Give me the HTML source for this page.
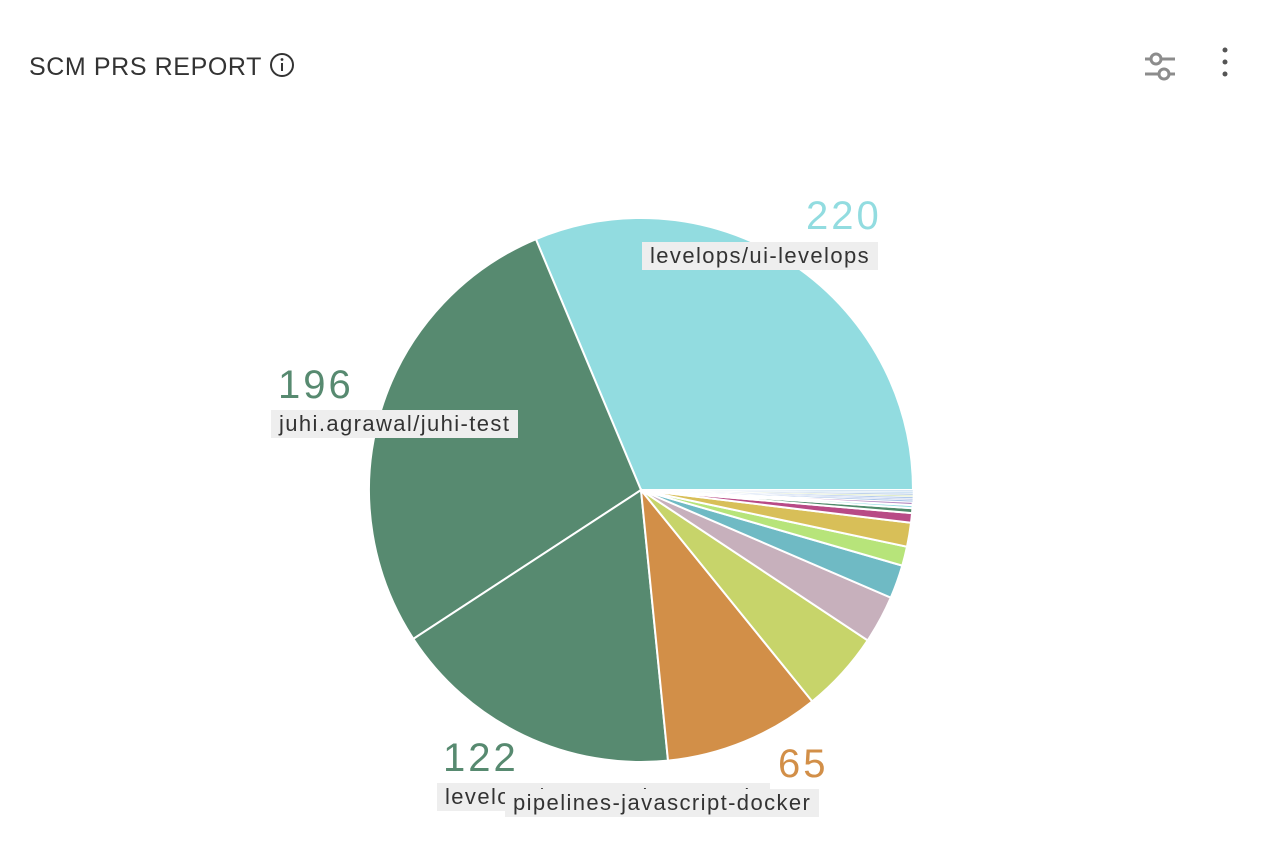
<!DOCTYPE html>
<html><head><meta charset="utf-8"><style>
body{margin:0;width:1286px;height:852px;background:#fff;font-family:"Liberation Sans",sans-serif;overflow:hidden;position:relative}
.title{position:absolute;left:29px;top:52px;font-size:25px;color:#333;letter-spacing:0.6px}
.lbl{position:absolute;background:#eeeeee;color:#333;font-size:22px;padding:2px 8px;line-height:24px;white-space:nowrap;letter-spacing:1.4px}
.val{position:absolute;font-size:40px;line-height:40px;letter-spacing:3px}
</style></head><body>
<div class="title">SCM PRS REPORT <svg width="26" height="26" viewBox="0 0 26 26" style="vertical-align:-3px"><circle cx="13" cy="13" r="11" fill="none" stroke="#333" stroke-width="2"/><rect x="12" y="11" width="2" height="8" fill="#333"/><circle cx="13" cy="7.5" r="1.4" fill="#333"/></svg></div>
<svg style="position:absolute;left:1143px;top:50px" width="36" height="34"><line x1="2" y1="9" x2="32" y2="9" stroke="#8c8c8c" stroke-width="3"/><circle cx="13" cy="9" r="5" fill="#fff" stroke="#8c8c8c" stroke-width="3"/><line x1="2" y1="24" x2="32" y2="24" stroke="#8c8c8c" stroke-width="3"/><circle cx="21" cy="24" r="5" fill="#fff" stroke="#8c8c8c" stroke-width="3"/></svg>
<svg style="position:absolute;left:1218px;top:46px" width="14" height="36"><circle cx="7" cy="4" r="2.5" fill="#555"/><circle cx="7" cy="16" r="2.5" fill="#555"/><circle cx="7" cy="28" r="2.5" fill="#555"/></svg>
<svg id="pie" style="position:absolute;left:0;top:0" width="1286" height="852"></svg>
<div class="val" style="left:806px;top:196px;color:#92dce0">220</div>
<div class="lbl" style="left:642px;top:242px">levelops/ui-levelops</div>
<div class="val" style="left:278px;top:365px;color:#578a70">196</div>
<div class="lbl" style="left:271px;top:410px">juhi.agrawal/juhi-test</div>
<div class="val" style="left:443px;top:738px;color:#578a70">122</div>
<div class="lbl" style="left:437px;top:783px;width:317px;overflow:hidden">levelops/aggregations-service</div>
<div class="val" style="left:778px;top:744px;color:#d28f48">65</div>
<div class="lbl" style="left:505px;top:789px">pipelines-javascript-docker</div>
<script>
const categories=["ui-levelops","juhi-test","levelops-2","pipelines","s5","s6","s7","s8","s9","s10","s11","s12","s13","s14","s15","s16","s17","s18","s19","s20"];
const values=[220,196,122,65,34,20,14,8,10,4,2,1.3,1.3,0.7,0.7,0.7,0.7,0.7,0.7,0.7];
const colors=["#92dce0","#578a70","#578a70","#d28f48","#c7d46a","#c7b0bc","#6fbac4","#b7e47a","#d8bf58","#b84a86","#4f8a6a","#92dce0","#b48ac2","#a9c4e8","#c7d4f0","#b0c8ec","#e0ecc8","#b8cce8","#d0e4f4","#c8dcf0"];
const cx=641,cy=490,r=272;
const svg=document.getElementById('pie');
const total=values.reduce((a,b)=>a+b,0);
let a0=0;
values.forEach((v,i)=>{
  const a1=a0+v/total*2*Math.PI;
  const x0=cx+r*Math.cos(a0),y0=cy-r*Math.sin(a0),x1=cx+r*Math.cos(a1),y1=cy-r*Math.sin(a1);
  const p=document.createElementNS('http://www.w3.org/2000/svg','path');
  p.setAttribute('d',`M${cx},${cy}L${x0},${y0}A${r},${r} 0 ${a1-a0>Math.PI?1:0} 0 ${x1},${y1}Z`);
  p.setAttribute('fill',colors[i]);
  p.setAttribute('stroke','#fff');
  p.setAttribute('stroke-width',v<1?'0.5':'2');
  
  
  svg.appendChild(p);
  a0=a1;
});
</script>
</body></html>
